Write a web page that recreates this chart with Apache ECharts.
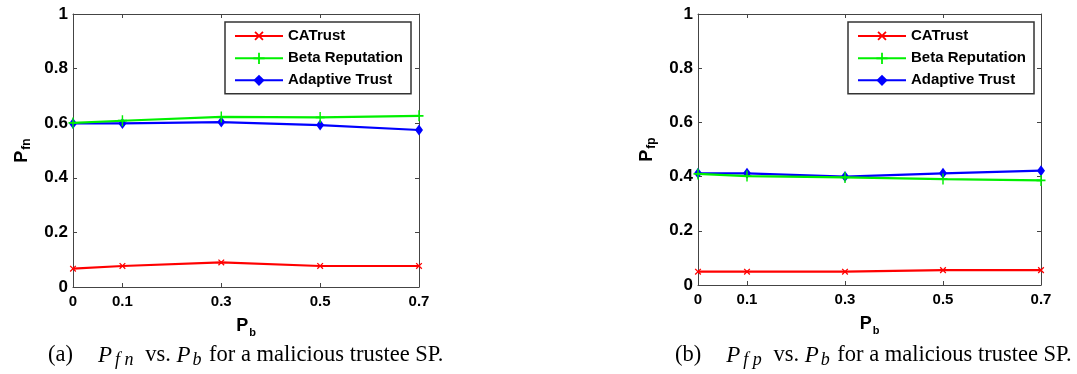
<!DOCTYPE html>
<html><head><meta charset="utf-8">
<script src="https://cdn.jsdelivr.net/npm/echarts@6/dist/echarts.min.js"></script>
<style>html,body{margin:0;padding:0;background:#fff}#c{width:1077px;height:374px}</style>
</head><body><div id="c"></div>
<script>
const xValues = [0, 0.1, 0.3, 0.5, 0.7];
const xTickValues = [0, 0.1, 0.3, 0.5, 0.7];
const seriesNames = ['CATrust', 'Beta Reputation', 'Adaptive Trust'];
const fnCATrust = [0.067, 0.077, 0.090, 0.077, 0.077];
const fnBeta = [0.601, 0.609, 0.623, 0.621, 0.627];
const fnAdaptive = [0.599, 0.599, 0.604, 0.593, 0.575];
const fpCATrust = [0.049, 0.049, 0.049, 0.055, 0.055];
const fpBeta = [0.410, 0.402, 0.397, 0.391, 0.386];
const fpAdaptive = [0.412, 0.412, 0.400, 0.412, 0.422];

const colors = ['#ff0000', '#00f000', '#0000ff'];
const crossPath = 'path://M4.2,0H5.8V10H4.2ZM0,4.2H10V5.8H0Z';
const symbols = [crossPath, crossPath, 'diamond'];
const symbolSizes = [[8, 8], [9, 11], [8, 11]];
const symbolRot = [45, 0, 0];

const labelFont = 'Liberation Sans, Arial, sans-serif';
const serif = 'Liberation Serif, Times New Roman, serif';
const axisColor = '#444';

function mkGrid(left, top, width, height) {
  return { left, top, width, height, show: false, containLabel: false };
}
function mkX(gi, name) {
  return [{
    type: 'value', gridIndex: gi, min: 0, max: 0.7, position: 'bottom',
    name: name, nameLocation: 'middle', nameGap: 28,
    nameTextStyle: { rich: {
      m: { fontFamily: labelFont, fontWeight: 'bold', fontSize: 18, color: '#000' },
      s: { fontFamily: labelFont, fontWeight: 'bold', fontSize: 11, color: '#000', padding: [12, 0, 0, 1] } } },
    axisLine: { show: true, lineStyle: { color: axisColor, width: 1 } },
    axisTick: { show: true, inside: true, length: 4, customValues: xTickValues, lineStyle: { color: axisColor } },
    axisLabel: { customValues: xTickValues, margin: 7, fontFamily: 'Liberation Sans Narrow, Arial Narrow, ' + labelFont,
      fontWeight: 'bold', fontSize: 15, color: '#000', formatter: v => String(+v.toFixed(2)) },
    splitLine: { show: false }
  }, {
    type: 'value', gridIndex: gi, min: 0, max: 0.7, position: 'top',
    axisLine: { show: true, onZero: false, lineStyle: { color: axisColor, width: 1 } },
    axisTick: { show: true, inside: true, length: 4, customValues: xTickValues, lineStyle: { color: axisColor } },
    axisLabel: { show: false }, splitLine: { show: false }
  }];
}
function mkY(gi, main, sub) {
  return [{
    type: 'value', gridIndex: gi, min: 0, max: 1, interval: 0.2, position: 'left',
    name: '{m|' + main + '}{s|' + sub + '}', nameLocation: 'middle', nameGap: 40, nameRotate: 90,
    nameTextStyle: { rich: {
      m: { fontFamily: labelFont, fontWeight: 'bold', fontSize: 18, color: '#000' },
      s: { fontFamily: labelFont, fontWeight: 'bold', fontSize: 12, color: '#000', padding: [9, 0, 0, 1] } } },
    axisLine: { show: true, lineStyle: { color: axisColor, width: 1 } },
    axisTick: { show: true, inside: true, length: 4, lineStyle: { color: axisColor } },
    axisLabel: { margin: 5, fontFamily: labelFont, fontWeight: 'bold', fontSize: 17, color: '#000',
      formatter: v => String(+v.toFixed(2)) },
    splitLine: { show: false }
  }, {
    type: 'value', gridIndex: gi, min: 0, max: 1, interval: 0.2, position: 'right',
    axisLine: { show: true, onZero: false, lineStyle: { color: axisColor, width: 1 } },
    axisTick: { show: true, inside: true, length: 4, lineStyle: { color: axisColor } },
    axisLabel: { show: false }, splitLine: { show: false }
  }];
}
function mkSeries(gi, arrays) {
  return arrays.map((arr, i) => ({
    name: seriesNames[i], type: 'line',
    xAxisIndex: gi * 2, yAxisIndex: gi * 2,
    data: xValues.map((x, j) => [x, arr[j]]),
    symbol: symbols[i], symbolSize: symbolSizes[i], symbolRotate: symbolRot[i],
    showAllSymbol: true,
    lineStyle: { color: colors[i], width: 2.2 },
    itemStyle: { color: colors[i], borderColor: colors[i], borderWidth: 0 },
    z: 5 - i,
    animation: false
  }));
}
function mkLegend(left, top) {
  return {
    orient: 'vertical', left, top, data: seriesNames,
    itemWidth: 48, itemHeight: 14, itemGap: 7,
    padding: [6, 8, 6, 9], borderColor: '#333', borderWidth: 1.5, backgroundColor: '#fff',
    textStyle: { fontFamily: labelFont, fontWeight: 'bold', fontSize: 15, color: '#000' },
    selectedMode: false
  };
}

const capRich = {
  t: { fontFamily: serif, fontSize: 22.5, color: '#000' },
  g: { width: 25 },
  i: { fontFamily: serif, fontSize: 23, fontStyle: 'italic', color: '#000', padding: [0, 1, 0, 0] },
  s: { fontFamily: serif, fontSize: 18, fontStyle: 'italic', color: '#000', padding: [10, 6, 0, 2] },
  s2: { fontFamily: serif, fontSize: 18, fontStyle: 'italic', color: '#000', padding: [10, 2, 0, 1] }
};

const xA = mkX(0, '{m|P}{s|b}').concat(mkX(1, '{m|P}{s|b}'));
const yA = mkY(0, 'P', 'fn').concat(mkY(1, 'P', 'fp'));

const option = {
  animation: false,
  grid: [mkGrid(73, 14, 346, 273), mkGrid(698, 14, 343, 271)],
  xAxis: xA,
  yAxis: yA,
  legend: [mkLegend(225, 22), mkLegend(848, 22)],
  series: mkSeries(0, [fnCATrust, fnBeta, fnAdaptive]).concat(mkSeries(1, [fpCATrust, fpBeta, fpAdaptive])),
  graphic: [
    { type: 'text', left: 48, top: 344, style: { text: '{t|(a)}{g|}{i|P}{s|f n}{t| vs. }{i|P}{s2|b}{t| for a malicious trustee SP.}', rich: capRich } },
    { type: 'text', left: 675, top: 344, style: { text: '{t|(b)}{g|}{i|P}{s|f p}{t| vs. }{i|P}{s2|b}{t| for a malicious trustee SP.}', rich: capRich } }
  ]
};
const chart = echarts.init(document.getElementById('c'), null, { renderer: 'canvas' });
chart.setOption(option);
</script></body></html>
